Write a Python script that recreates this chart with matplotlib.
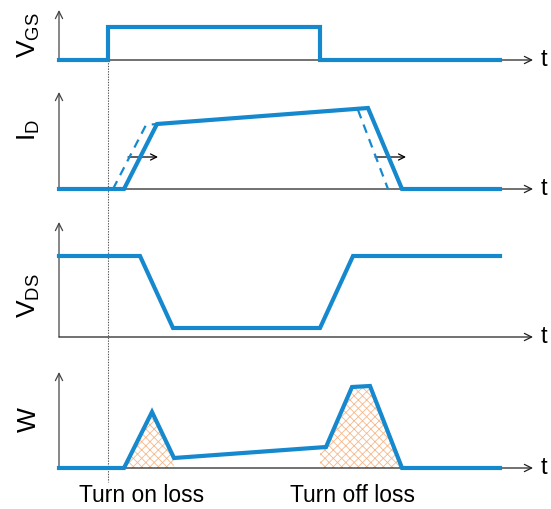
import matplotlib
matplotlib.use("Agg")
import matplotlib.pyplot as plt
from matplotlib.patches import FancyArrowPatch

plt.rcParams['font.family'] = ['Liberation Sans', 'DejaVu Sans']
plt.rcParams['mathtext.fontset'] = 'custom'
plt.rcParams['mathtext.rm'] = 'Liberation Sans'
plt.rcParams['mathtext.it'] = 'Liberation Sans'
plt.rcParams['hatch.linewidth'] = 0.6

# ---- data (diagram coordinates: x = time, y = downward position) ----
axis_x = 59
axis_end_x = 533
panel_labels = [r'$\mathregular{V_{GS}}$', r'$\mathregular{I_{D}}$', r'$\mathregular{V_{DS}}$', 'W']
panel_label_y = [35, 130, 296, 420]
panel_base_y = [60, 189, 337, 468]
panel_top_y = [10, 92, 222, 372]

vgs_x = [59, 108, 108, 320, 320, 500]
vgs_y = [60, 60, 27, 27, 60, 60]

id_x = [59, 124, 157, 368, 402, 500]
id_y = [189, 189, 124, 108, 189, 189]
id_on_dash_x = [113, 146, 157]
id_on_dash_y = [189, 125, 124]
id_off_dash_x = [358, 388]
id_off_dash_y = [110, 189]
shift_arrows = [((128, 157), (158, 157)), ((375, 157), (406, 157))]

vds_x = [59, 140, 173, 320, 353, 500]
vds_y = [256, 256, 328, 328, 256, 256]

w_x = [59, 124, 152, 174, 326, 352, 370, 402, 500]
w_y = [468, 468, 412, 458, 447, 387, 386, 468, 468]

hatch_on_x = [124, 152, 174, 174]
hatch_on_y = [468, 412, 458, 468]
hatch_off_x = [320, 320, 326, 352, 370, 402]
hatch_off_y = [468, 448, 447, 387, 386, 468]

loss_labels = ['Turn on loss', 'Turn off loss']
loss_label_x = [142, 353]
loss_label_y = 495

marker_x = 108
marker_y = [60, 482]

# ---- style ----
blue = '#1689CE'
orange = '#F7B88A'
lw_wave = 3.0

fig = plt.figure(figsize=(5.51, 5.09), dpi=100)
ax = fig.add_axes([0, 0, 1, 1])
ax.set_xlim(0, 551)
ax.set_ylim(509, 0)
ax.axis('off')

def arrow(p0, p1, lw=0.9, color='#333333', ms=12):
    a = FancyArrowPatch(p0, p1, arrowstyle='->', mutation_scale=ms,
                        lw=lw, color=color, shrinkA=0, shrinkB=0)
    ax.add_patch(a)

# hatch fills
ax.fill(hatch_on_x, hatch_on_y, facecolor='none', edgecolor=orange, hatch='xxxx', lw=0)
ax.fill(hatch_off_x, hatch_off_y, facecolor='none', edgecolor=orange, hatch='xxxx', lw=0)

# axes
for base, top, lab, ly in zip(panel_base_y, panel_top_y, panel_labels, panel_label_y):
    arrow((axis_x, base), (axis_x, top), lw=0.9, color='#444444', ms=13)
    arrow((axis_x, base), (axis_end_x, base), lw=0.9, color='#222222', ms=13)
    ax.text(axis_end_x + 11, base, 't', fontsize=17, ha='center', va='center')
    ax.text(29, ly, lab, fontsize=19, rotation=90, ha='center', va='center')

# dotted marker line
ax.plot([marker_x, marker_x], marker_y, ls=(0, (1.2, 1.2)), color='#555555', lw=0.8)

# waveforms
ax.plot(vgs_x, vgs_y, color=blue, lw=lw_wave, solid_joinstyle='miter')
ax.plot(id_on_dash_x, id_on_dash_y, color=blue, lw=1.6, ls=(0, (4, 3)))
ax.plot(id_off_dash_x, id_off_dash_y, color=blue, lw=1.6, ls=(0, (4, 3)))
ax.plot(id_x, id_y, color=blue, lw=lw_wave, solid_joinstyle='miter')
ax.plot(vds_x, vds_y, color=blue, lw=lw_wave, solid_joinstyle='miter')
ax.plot(w_x, w_y, color=blue, lw=lw_wave, solid_joinstyle='miter')

for p0, p1 in shift_arrows:
    arrow(p0, p1, lw=0.9, color='black', ms=11)

for lab, lx in zip(loss_labels, loss_label_x):
    ax.text(lx, loss_label_y, lab, fontsize=16.5, ha='center', va='center')

fig.savefig('out.png', dpi=100)
